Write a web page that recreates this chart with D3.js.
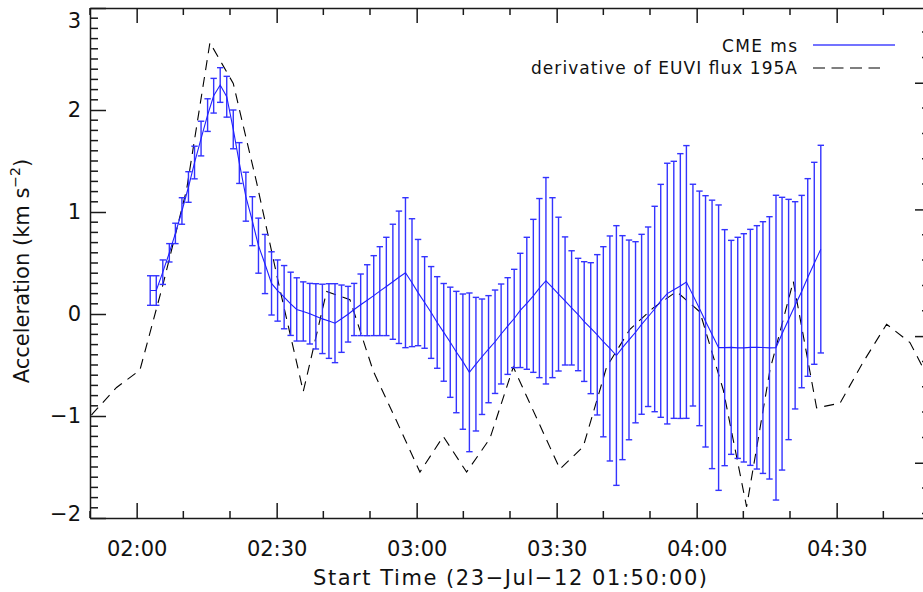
<!DOCTYPE html>
<html>
<head>
<meta charset="utf-8">
<script src="https://cdn.jsdelivr.net/npm/d3@7"></script>
<style>
  html, body { margin: 0; padding: 0; background: #fff; }
  text { font-family: "DejaVu Sans", sans-serif; fill: #111; }
</style>
</head>
<body>
<div id="chart"></div>
<script>
// minutes after 01:50:00
var cmeTime = [12.9, 14.2, 15.6, 17.0, 18.3, 19.7, 21.1, 22.4, 23.8, 25.2,
  26.5, 27.9, 29.3, 30.7, 32.0, 33.4, 34.8, 36.1, 37.5, 38.9,
  40.2, 41.6, 43.0, 44.3, 45.7, 47.1, 48.4, 49.8, 51.2, 52.5,
  53.9, 55.3, 56.6, 58.0, 59.4, 60.8, 62.1, 63.5, 64.9, 66.2,
  67.6, 69.0, 70.3, 71.7, 73.1, 74.4, 75.8, 77.2, 78.5, 79.9,
  81.3, 82.7, 84.0, 85.4, 86.8, 88.1, 89.5, 90.9, 92.2, 93.6,
  95.0, 96.3, 97.7, 99.1, 100.4, 101.8, 103.2, 104.6, 105.9, 107.3,
  108.7, 110.0, 111.4, 112.8, 114.1, 115.5, 116.9, 118.2, 119.6, 121.0,
  122.3, 123.7, 125.1, 126.5, 127.8, 129.2, 130.6, 131.9, 133.3, 134.7,
  136.0, 137.4, 138.8, 140.1, 141.5, 142.9, 144.2, 145.6, 147.0, 148.3,
  149.7, 151.1, 152.5, 153.8, 155.2, 156.6];
var cmeAcc = [0.23, 0.23, 0.41, 0.60, 0.79, 1.01, 1.245, 1.485, 1.72, 1.95,
  2.14, 2.245, 2.13, 1.81, 1.48, 1.15, 0.91, 0.67, 0.49, 0.30,
  0.23, 0.165, 0.10, 0.045, 0.025, 0.003, -0.023, -0.048, -0.069, -0.09,
  -0.046, -0.002, 0.044, 0.09, 0.135, 0.18, 0.224, 0.27, 0.316, 0.36,
  0.405, 0.307, 0.21, 0.113, 0.015, -0.083, -0.18, -0.277, -0.373, -0.467,
  -0.572, -0.492, -0.419, -0.345, -0.272, -0.196, -0.118, -0.044, 0.035, 0.105,
  0.178, 0.254, 0.326, 0.258, 0.195, 0.128, 0.06, -0.005, -0.074, -0.139,
  -0.204, -0.272, -0.338, -0.407, -0.33, -0.254, -0.179, -0.101, -0.027, 0.049,
  0.129, 0.20, 0.237, 0.274, 0.314, 0.185, 0.055, -0.072, -0.2, -0.33,
  -0.33, -0.327, -0.332, -0.332, -0.327, -0.327, -0.329, -0.332, -0.33, -0.193,
  -0.054, 0.085, 0.22, 0.358, 0.497, 0.636];
var cmeErr = [0.145, 0.145, 0.12, 0.09, 0.10, 0.13, 0.15, 0.16, 0.17, 0.16,
  0.17, 0.17, 0.20, 0.19, 0.20, 0.24, 0.24, 0.27, 0.29, 0.31,
  0.30, 0.31, 0.31, 0.31, 0.29, 0.297, 0.32, 0.34, 0.366, 0.387,
  0.33, 0.273, 0.256, 0.302, 0.348, 0.392, 0.436, 0.482, 0.564, 0.649,
  0.735, 0.627, 0.521, 0.449, 0.45, 0.449, 0.479, 0.54, 0.595, 0.663,
  0.778, 0.655, 0.566, 0.525, 0.507, 0.49, 0.474, 0.482, 0.56, 0.647,
  0.75, 0.878, 1.012, 0.882, 0.754, 0.628, 0.56, 0.551, 0.587, 0.642,
  0.786, 0.932, 1.103, 1.273, 1.098, 0.979, 0.888, 0.882, 0.88, 1.007,
  1.142, 1.278, 1.26, 1.298, 1.337, 1.087, 1.15, 1.232, 1.316, 1.399,
  1.157, 1.049, 1.084, 1.119, 1.157, 1.193, 1.234, 1.286, 1.494, 1.337,
  1.178, 1.016, 0.943, 0.969, 0.99, 1.018];

var euviTime = [-4.3, 0.7, 5.7, 10.7, 15.7, 20.7, 25.7, 30.7, 35.7, 40.7,
  45.7, 50.7, 55.7, 60.7, 65.7, 70.7, 75.7, 80.7, 85.7, 90.7,
  95.7, 100.7, 105.7, 110.7, 115.7, 120.7, 125.7, 130.7, 135.7, 140.7,
  145.7, 150.7, 155.7, 160.7, 165.7, 170.7, 175.7, 180.7];
var euviDeriv = [-1.25, -0.97, -0.72, -0.55, 0.30, 1.22, 2.66, 2.26, 1.29, 0.24,
  -0.76, 0.22, 0.14, -0.56, -1.05, -1.55, -1.20, -1.55, -1.22, -0.52,
  -1.02, -1.52, -1.30, -0.52, -0.15, 0.06, 0.22, 0.02, -0.745, -1.89,
  -0.55, 0.32, -0.92, -0.875, -0.47, -0.10, -0.28, -0.72];

var xMajor = [10, 40, 70, 100, 130, 160];
var xLabels = ["02:00", "02:30", "03:00", "03:30", "04:00", "04:30"];
var yMajor = [-2, -1, 0, 1, 2, 3];
var yLabels = ["\u22122", "\u22121", "0", "1", "2", "3"];
var rightMajor = [0, 1, 2, 3];

var width = 923, height = 592;
var pL = 90, pR = 930, pT = 8, pB = 518;
var blue = "#1f1fff";
var axisColor = "#1a1a1a";

var x = d3.scaleLinear().domain([0, 180]).range([pL, pR]);
var y = d3.scaleLinear().domain([-2, 3]).range([pB, pT]);
var y2 = d3.scaleLinear().domain([-0.436, 3.59]).range([pB, pT]);

var svg = d3.select("#chart").append("svg")
    .attr("width", width)
    .attr("height", height);

svg.append("clipPath").attr("id", "plot")
  .append("rect")
    .attr("x", pL).attr("y", pT)
    .attr("width", pR - pL).attr("height", pB - pT);

var xMinor = d3.range(0, 19).map(function(k){ return k * 10; })
    .filter(function(t){ return xMajor.indexOf(t) < 0; });
var yMinor = d3.range(-20, 31).filter(function(k){ return k % 10 != 0; })
    .map(function(k){ return k / 10; });
var rMinor = d3.range(-2, 18).filter(function(k){ return k % 5 != 0; })
    .map(function(k){ return k / 5; });

function styleAxis(g) {
  g.selectAll("path, line").attr("stroke", axisColor).attr("stroke-width", 1.5);
  g.selectAll("text").attr("font-family", "DejaVu Sans").attr("font-size", 21)
    .attr("fill", "#111");
}

// minor ticks
var minor = svg.append("g").attr("stroke", axisColor).attr("stroke-width", 1.5);
minor.selectAll("line.xb").data(xMinor).enter().append("line").attr("class", "xb")
    .attr("x1", function(d){ return x(d); }).attr("x2", function(d){ return x(d); })
    .attr("y1", pB).attr("y2", pB - 7);
minor.selectAll("line.xt").data(xMinor).enter().append("line").attr("class", "xt")
    .attr("x1", function(d){ return x(d); }).attr("x2", function(d){ return x(d); })
    .attr("y1", pT).attr("y2", pT + 7);
minor.selectAll("line.yl").data(yMinor).enter().append("line").attr("class", "yl")
    .attr("x1", pL).attr("x2", pL + 8)
    .attr("y1", function(d){ return y(d); }).attr("y2", function(d){ return y(d); });
minor.selectAll("line.yr").data(rMinor).enter().append("line").attr("class", "yr")
    .attr("x1", pR).attr("x2", pR - 8)
    .attr("y1", function(d){ return y2(d); }).attr("y2", function(d){ return y2(d); });

// major ticks and frame
svg.append("g").attr("transform", "translate(0," + pB + ")")
    .call(d3.axisBottom(x).tickValues(xMajor).tickSize(-15).tickSizeOuter(0)
      .tickPadding(23).tickFormat(function(d, i){ return xLabels[i]; }))
    .call(styleAxis);
svg.append("g").attr("transform", "translate(0," + pT + ")")
    .call(d3.axisTop(x).tickValues(xMajor).tickSize(-15).tickSizeOuter(0).tickFormat(""))
    .call(styleAxis);
var yAxisG = svg.append("g").attr("transform", "translate(" + pL + ",0)")
    .call(d3.axisLeft(y).tickValues(yMajor).tickSize(-16).tickSizeOuter(0)
      .tickPadding(9).tickFormat(function(d, i){ return yLabels[i]; }))
    .call(styleAxis);
// keep the end labels inside the frame, as the original does
yAxisG.selectAll(".tick text")
    .attr("dy", function(d){ return d == 3 ? "0.95em" : (d == -2 ? "0.1em" : "0.32em"); });
svg.append("g").attr("transform", "translate(" + pR + ",0)")
    .call(d3.axisRight(y2).tickValues(rightMajor).tickSize(-15).tickSizeOuter(0).tickFormat(""))
    .call(styleAxis);

// titles
svg.append("text")
    .attr("x", (pL + pR) / 2).attr("y", 585)
    .attr("text-anchor", "middle").attr("font-size", 21)
    .attr("textLength", 394).attr("lengthAdjust", "spacing")
    .text("Start Time (23\u2212Jul\u221212 01:50:00)");

var yt = svg.append("text")
    .attr("transform", "translate(29,271) rotate(-90)")
    .attr("text-anchor", "middle").attr("font-size", 21);
yt.append("tspan").text("Acceleration (km s");
yt.append("tspan").attr("font-size", 14).attr("dy", -9).text("\u22122");
yt.append("tspan").attr("dy", 9).text(")");

var plot = svg.append("g").attr("clip-path", "url(#plot)");

// derivative of EUVI flux
var euvi = euviTime.map(function(t, i){ return [t, euviDeriv[i]]; });
plot.append("path")
    .datum(euvi)
    .attr("fill", "none")
    .attr("stroke", "#000")
    .attr("stroke-width", 1.1)
    .attr("stroke-dasharray", "10,7")
    .attr("d", d3.line().x(function(d){ return x(d[0]); }).y(function(d){ return y(d[1]); }));

// CME error bars
var cme = cmeTime.map(function(t, i){ return {t: t, a: cmeAcc[i], e: cmeErr[i]}; });
var cap = 3.2;
var bars = plot.append("g")
    .attr("stroke", "#3333ff").attr("stroke-width", 1.4)
    .selectAll("g").data(cme).enter().append("g");
bars.append("line")
    .attr("x1", function(d){ return x(d.t); }).attr("x2", function(d){ return x(d.t); })
    .attr("y1", function(d){ return y(d.a + d.e); }).attr("y2", function(d){ return y(d.a - d.e); });
bars.append("line")
    .attr("x1", function(d){ return x(d.t) - cap; }).attr("x2", function(d){ return x(d.t) + cap; })
    .attr("y1", function(d){ return y(d.a + d.e); }).attr("y2", function(d){ return y(d.a + d.e); });
bars.append("line")
    .attr("x1", function(d){ return x(d.t) - cap; }).attr("x2", function(d){ return x(d.t) + cap; })
    .attr("y1", function(d){ return y(d.a - d.e); }).attr("y2", function(d){ return y(d.a - d.e); });

plot.append("path")
    .datum(cme)
    .attr("fill", "none")
    .attr("stroke", blue)
    .attr("stroke-width", 1.1)
    .attr("d", d3.line().x(function(d){ return x(d.t); }).y(function(d){ return y(d.a); }));

// legend
svg.append("text").attr("x", 797).attr("y", 52).attr("text-anchor", "end")
    .attr("font-size", 17).attr("textLength", 75).attr("lengthAdjust", "spacing")
    .text("CME ms");
svg.append("line").attr("x1", 813).attr("x2", 895).attr("y1", 45).attr("y2", 45)
    .attr("stroke", "#4444ff").attr("stroke-width", 1.5);
svg.append("text").attr("x", 797).attr("y", 73.5).attr("text-anchor", "end")
    .attr("font-size", 17).attr("textLength", 266).attr("lengthAdjust", "spacing")
    .text("derivative of EUVI flux 195A");
svg.append("line").attr("x1", 813).attr("x2", 880).attr("y1", 68).attr("y2", 68)
    .attr("stroke", "#000").attr("stroke-width", 1.1).attr("stroke-dasharray", "12,6.5");
</script>
</body>
</html>
